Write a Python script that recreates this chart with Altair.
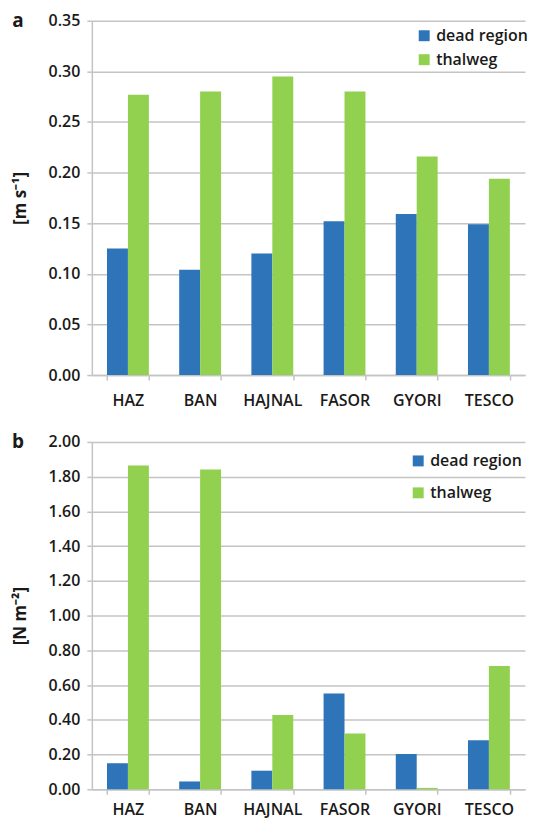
import altair as alt
import pandas as pd

sites = ["HAZ", "BAN", "HAJNAL", "FASOR", "GYORI", "TESCO"]
series = ["dead region", "thalweg"]
colors = ["#2E74B8", "#92D050"]

vel_dead = [0.125, 0.104, 0.120, 0.152, 0.159, 0.149]
vel_thal = [0.277, 0.280, 0.295, 0.280, 0.216, 0.194]
shear_dead = [0.15, 0.045, 0.107, 0.552, 0.203, 0.282]
shear_thal = [1.865, 1.842, 0.428, 0.321, 0.008, 0.71]

vel_ticks = [0.00, 0.05, 0.10, 0.15, 0.20, 0.25, 0.30, 0.35]
shear_ticks = [0.0, 0.2, 0.4, 0.6, 0.8, 1.0, 1.2, 1.4, 1.6, 1.8, 2.0]

FONT = "Open Sans"
TXT = "#1a1a1a"
GRID = "#c4c4c4"


def long(dead, thal):
    rows = []
    for s, d, t in zip(sites, dead, thal):
        rows.append({"site": s, "series": series[0], "value": d})
        rows.append({"site": s, "series": series[1], "value": t})
    return pd.DataFrame(rows)


def panel(df, ticks, ytitle, letter, lx, ly, rowpad, height, lpad):
    bars = alt.Chart(df).mark_bar().encode(
        x=alt.X("site:N", sort=sites, title=None,
                scale=alt.Scale(paddingInner=0.42, paddingOuter=0.21),
                axis=alt.Axis(labelAngle=0, tickBand="extent", grid=False,
                              domainColor=GRID, domainWidth=1.5,
                              tickColor=GRID, tickWidth=1.5, tickSize=5,
                              labelPadding=lpad, labelFontSize=16,
                              labelFontWeight=600, labelColor=TXT,
                              labelFont=FONT)),
        xOffset=alt.XOffset("series:N", sort=series),
        y=alt.Y("value:Q", stack=None, title=ytitle,
                scale=alt.Scale(domain=[ticks[0], ticks[-1]], nice=False),
                axis=alt.Axis(values=ticks, format=".2f", grid=True,
                              gridColor=GRID, gridWidth=1.5,
                              domainColor=GRID, domainWidth=1.5,
                              tickColor=GRID, tickWidth=1.5, tickSize=5,
                              labelPadding=7, labelFontSize=16,
                              labelFontWeight=600, labelColor=TXT,
                              labelFont=FONT,
                              titleFontSize=17, titleFontWeight="bold",
                              titleColor=TXT, titleFont=FONT,
                              titlePadding=19)),
        color=alt.Color("series:N", sort=series,
                        scale=alt.Scale(domain=series, range=colors),
                        legend=alt.Legend(title=None, orient="none",
                                          legendX=lx, legendY=ly,
                                          symbolType="square",
                                          symbolSize=120,
                                          symbolStrokeWidth=0,
                                          labelFontSize=16,
                                          labelFontWeight=600,
                                          labelColor=TXT, labelFont=FONT,
                                          rowPadding=rowpad, padding=0,
                                          labelOffset=4)),
    )
    lab = alt.Chart(alt.Data(values=[{"t": letter}])).mark_text(
        font=FONT, fontSize=19, fontWeight="bold", color=TXT,
        align="center", baseline="middle"
    ).encode(text="t:N", x=alt.value(-74), y=alt.value(0))
    return alt.layer(bars, lab).properties(width=434, height=height)


top = panel(long(vel_dead, vel_thal), vel_ticks, "[m s\u207b\u00b9]", "a",
            325, 7, 8, 355, 12)
bottom = panel(long(shear_dead, shear_thal), shear_ticks, "[N m\u207b\u00b2]", "b",
               319, 11, 16, 348, 7)

chart = alt.vconcat(top, bottom, spacing=25).resolve_scale(
    color="independent"
).configure(
    padding={"left": 3, "top": 3, "right": 0, "bottom": 4}
).configure_view(stroke=None)

chart.save("out.html", embed_options={"renderer": "svg", "actions": False})
